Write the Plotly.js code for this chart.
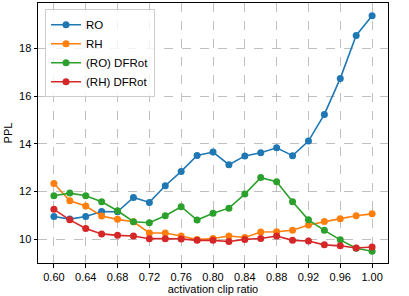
<!DOCTYPE html>
<html>
<head>
<meta charset="utf-8">
<script src="https://cdn.plot.ly/plotly-3.0.1.min.js"></script>
<style>html,body{margin:0;padding:0;background:#fff;}#chart{width:409px;height:296px;}</style>
</head>
<body>
<div id="chart"></div>
<script>
const clipRatio = [0.60,0.62,0.64,0.66,0.68,0.70,0.72,0.74,0.76,0.78,0.80,0.82,0.84,0.86,0.88,0.90,0.92,0.94,0.96,0.98,1.00];
const ro      = [10.95,10.84,10.95,11.16,11.15,11.75,11.54,12.24,12.84,13.51,13.65,13.12,13.49,13.62,13.83,13.50,14.11,15.23,16.74,18.54,19.37];
const rh      = [12.33,11.61,11.39,10.97,10.83,10.73,10.26,10.26,10.13,9.98,10.03,10.13,10.07,10.30,10.31,10.37,10.59,10.74,10.86,10.98,11.06];
const roDFRot = [11.82,11.93,11.82,11.57,11.19,10.73,10.69,10.98,11.36,10.80,11.09,11.30,11.89,12.58,12.41,11.57,10.81,10.37,9.97,9.62,9.49];
const rhDFRot = [11.25,10.81,10.45,10.22,10.16,10.13,10.02,10.02,10.01,9.95,9.95,9.90,9.99,10.03,10.13,9.95,9.92,9.76,9.72,9.63,9.67];
const seriesNames = ["RO","RH","(RO) DFRot","(RH) DFRot"];
const seriesColors = ["#1f77b4","#ff7f0e","#2ca02c","#d62728"];
const seriesData = [ro, rh, roDFRot, rhDFRot];

const traces = seriesData.map((ys,i)=>({
  x: clipRatio, y: ys, name: seriesNames[i], type:'scatter', mode:'lines+markers',
  line:{color:seriesColors[i], width:1.6},
  marker:{color:seriesColors[i], size:7}
}));

const font = {family:'"Liberation Sans", Arial, Helvetica, sans-serif', size:11, color:'#000'};
const layout = {
  width:409, height:296,
  margin:{l:38, r:21, t:3, b:33},
  paper_bgcolor:'#fff', plot_bgcolor:'#fff',
  font: font,
  showlegend:true,
  legend:{x:0.02, y:0.976, xanchor:'left', yanchor:'top', bgcolor:'rgba(255,255,255,0.8)',
          bordercolor:'#cccccc', borderwidth:1, font:{family:font.family, size:11.5, color:'#000'}, itemwidth:30, tracegroupgap:0},
  xaxis:{range:[0.58,1.02], tick0:0.6, dtick:0.04, tickformat:'.2f',
         showline:true, mirror:true, linecolor:'#000', linewidth:1,
         ticks:'outside', ticklen:3.5, tickcolor:'#000', tickwidth:1,
         showgrid:true, gridcolor:'#b0b0b0', griddash:'dash', gridwidth:0.8,
         zeroline:false, automargin:false,
         title:{text:'activation clip ratio', font:font, standoff:0}},
  yaxis:{range:[9.0,19.9], tick0:10, dtick:2,
         showline:true, mirror:true, linecolor:'#000', linewidth:1,
         ticks:'outside', ticklen:3.5, tickcolor:'#000', tickwidth:1,
         showgrid:true, gridcolor:'#b0b0b0', griddash:'dash', gridwidth:0.8,
         zeroline:false, automargin:false,
         title:{text:'PPL', font:font, standoff:4}}
};
Plotly.newPlot('chart', traces, layout, {displayModeBar:false, staticPlot:true});
</script>
</body>
</html>
